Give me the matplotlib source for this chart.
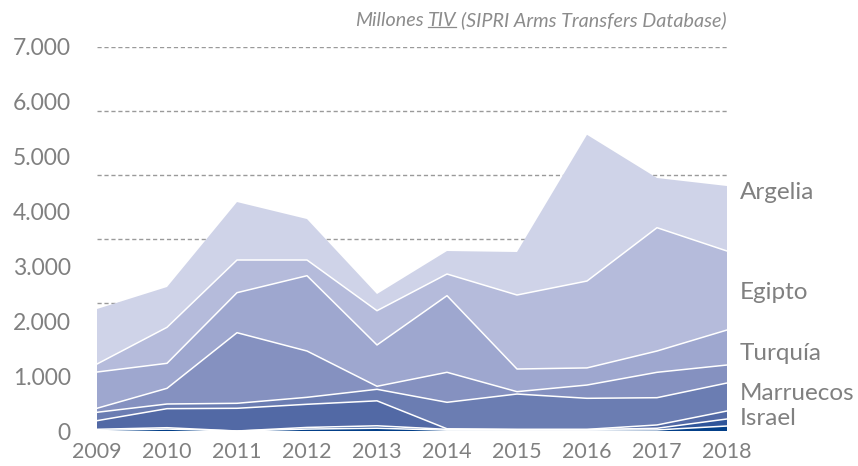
import matplotlib
matplotlib.use("Agg")
import matplotlib.pyplot as plt
import numpy as np
from matplotlib.lines import Line2D
from matplotlib.transforms import IdentityTransform

years = [2009, 2010, 2011, 2012, 2013, 2014, 2015, 2016, 2017, 2018]

# stacked from bottom to top
otros_1 = [10, 35, 0, 35, 50, 15, 15, 15, 20, 91]
otros_2 = [21, 25, 0, 30, 45, 15, 10, 10, 30, 128]
israel = [157, 347, 414, 422, 455, 10, 5, 5, 60, 146]
marruecos = [153, 85, 91, 127, 210, 483, 644, 566, 497, 510]
otros_3 = [73, 286, 1287, 844, 55, 547, 43, 242, 463, 328]
turquia = [661, 456, 729, 1373, 753, 1397, 413, 312, 388, 638]
egipto = [146, 656, 596, 286, 625, 395, 1349, 1584, 2248, 1440]
argelia = [1003, 735, 1057, 747, 304, 419, 784, 2666, 906, 1185]

series = [otros_1, otros_2, israel, marruecos, otros_3, turquia, egipto, argelia]
colors = ["#033f88", "#2f559a", "#5269a5", "#6b7db2", "#8591c0", "#9ea7cf", "#b5bbdb", "#cfd3e8"]

labels = ["Argelia", "Egipto", "Turquía", "Marruecos", "Israel"]
label_y = [4350, 2530, 1420, 690, 235]

yticks = [0, 1000, 2000, 3000, 4000, 5000, 6000, 7000]
ytick_labels = ["0", "1.000", "2.000", "3.000", "4.000", "5.000", "6.000", "7.000"]

plt.rcParams["font.family"] = ["Lato", "DejaVu Sans"]
grey = "#808080"

fig = plt.figure(figsize=(8.58, 4.66), dpi=100)
ax = fig.add_axes([97 / 858, 35 / 466, 630 / 858, 384 / 466])

# dashed guide lines (spaced differently from the tick labels, as in the source)
for g in np.linspace(0, 7000, 7)[1:]:
    ax.axhline(g, color="#9a9a9a", lw=1, ls=(0, (3, 2)), zorder=0.5)

ax.stackplot(years, series, colors=colors, linewidth=0, zorder=1)
tops = np.cumsum(series, axis=0)
for top in tops[:-1]:
    ax.plot(years, top, color="white", lw=1.1, zorder=2)

ax.set_xlim(2009, 2018)
ax.set_ylim(0, 7000)
ax.set_xticks(years)
ax.set_xticklabels([str(y) for y in years])
ax.set_yticks(yticks)
ax.set_yticklabels(ytick_labels)
ax.tick_params(length=0, labelcolor=grey)
ax.tick_params(axis="y", pad=19, labelsize=16.5)
ax.tick_params(axis="x", pad=8, labelsize=15.5)
for sp in ax.spines.values():
    sp.set_visible(False)

for name, yv in zip(labels, label_y):
    ax.annotate(name, xy=(2018, yv), xytext=(9, 0), textcoords="offset points",
                ha="left", va="center", fontsize=17.5, color=grey,
                annotation_clip=False)

# source note, with TIV underlined
note = dict(fontsize=14.2, style="italic", color="#8c8c8c")
t3 = fig.text(727 / 858, 0.957, "(SIPRI Arms Transfers Database)", ha="right", va="center", **note)
t2 = ax.annotate("TIV", xy=(0, 0.5), xycoords=t3, xytext=(-3.5, 0), textcoords="offset points",
                 ha="right", va="center", **note)
t1 = ax.annotate("Millones", xy=(0, 0.5), xycoords=t2, xytext=(-3.5, 0), textcoords="offset points",
                 ha="right", va="center", **note)

fig.canvas.draw()
bb = t2.get_window_extent()
fig.add_artist(Line2D([bb.x0, bb.x1 - 1], [bb.y0 + 2, bb.y0 + 2], color="#8c8c8c", lw=0.9,
                      transform=IdentityTransform()))

fig.savefig("out.png", dpi=100)
